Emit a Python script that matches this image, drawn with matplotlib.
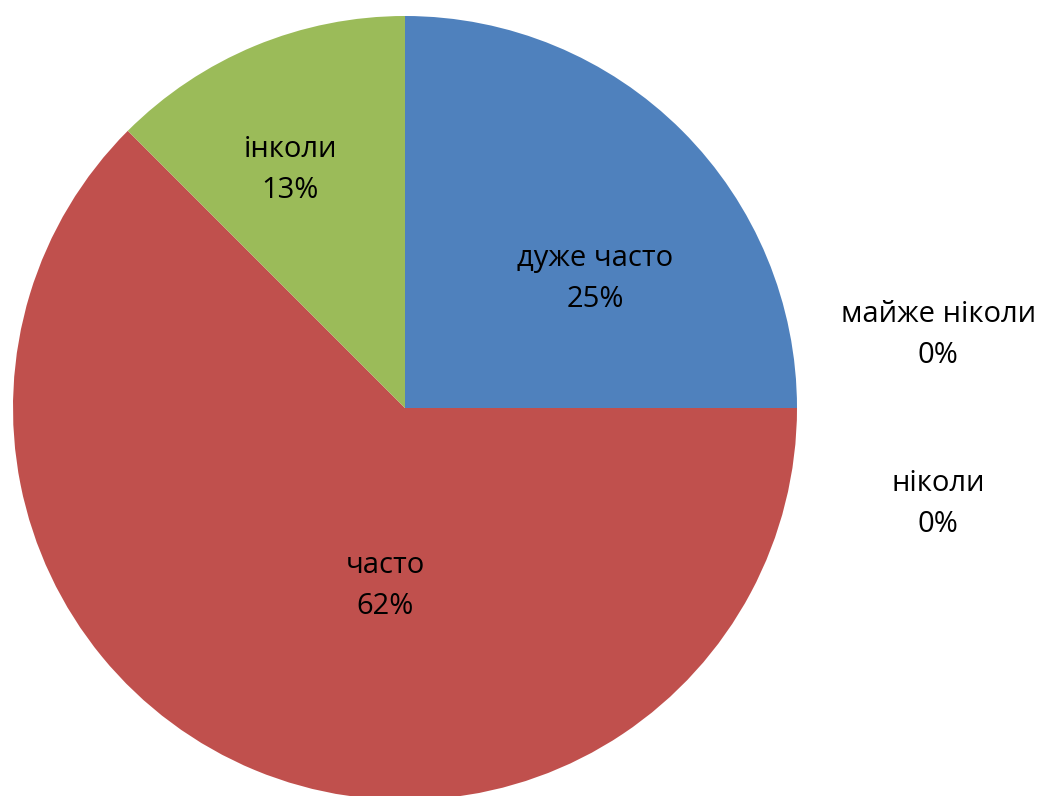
import matplotlib
matplotlib.use("Agg")
import matplotlib.pyplot as plt

# Data (order as the slices go clockwise from 12 o'clock)
categories = ["дуже часто", "майже ніколи", "ніколи", "часто", "інколи"]
values = [2, 0, 0, 5, 1]
pct_labels = ["25%", "0%", "0%", "62%", "13%"]
colors = ["#4F81BD", "#8064A2", "#4BACC6", "#C0504D", "#9BBB59"]

# label centres in pie-radius units (best-fit placement like Excel)
label_pos = [(0.485, 0.329), (1.36, 0.186), (1.36, -0.245), (-0.051, -0.454), (-0.293, 0.607)]

plt.rcParams['font.family'] = ['Open Sans', 'DejaVu Sans']

W, H = 1044, 796
cx, cy, R = 405, 408, 392

fig = plt.figure(figsize=(W / 100, H / 100), dpi=100)
ax = fig.add_axes([0, 0, 1, 1])
ax.pie(values, colors=colors, startangle=90, counterclock=False, radius=1,
       wedgeprops=dict(linewidth=0))
ax.set_xlim(-cx / R, (W - cx) / R)
ax.set_ylim(-(H - cy) / R, cy / R)
ax.set_aspect("auto")
ax.axis("off")

for name, pct, (x, y) in zip(categories, pct_labels, label_pos):
    ax.text(x, y, name + "\n" + pct, ha="center", va="center",
            fontsize=21, linespacing=1.52, color="black")

fig.savefig("out.png", dpi=100)
